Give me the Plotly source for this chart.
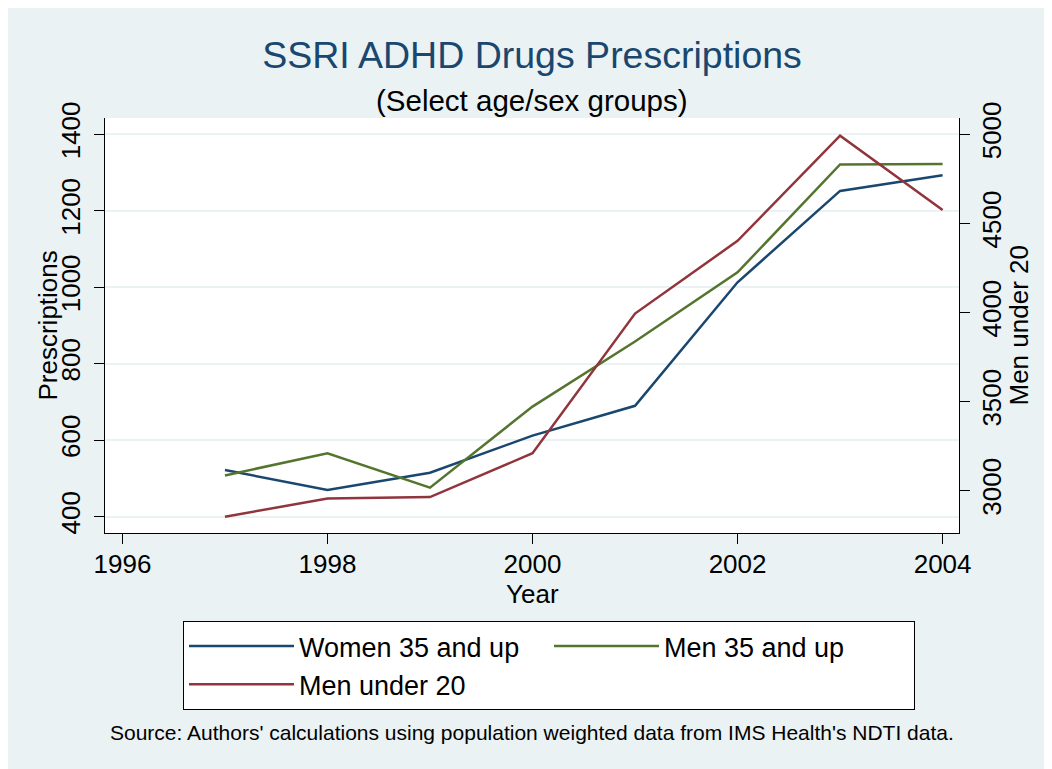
import plotly.graph_objects as go

# values
years = [1997, 1998, 1999, 2000, 2001, 2002, 2003, 2004]
women_35_up = [522, 470, 515, 612, 690, 1013, 1252, 1293]
men_35_up = [508, 566, 476, 688, 858, 1039, 1321, 1322]
men_under_20 = [2854, 2956, 2964, 3210, 3994, 4402, 4992, 4575]

left_ticks = [400, 600, 800, 1000, 1200, 1400]
right_ticks = [3000, 3500, 4000, 4500, 5000]
year_ticks = [1996, 1998, 2000, 2002, 2004]

NAVY = "#1a476f"
GREEN = "#55752f"
MAROON = "#90353b"
BG = "#eaf2f3"
FONT = "Liberation Sans, Arial, sans-serif"

# page body adds an 8px offset; plot area sits at x 105..959, y 118..533
W, H = 1044, 761
PL, PR, PT, PB = 105, 959, 118, 533


def px_x(x):
    return (x - PL) / (PR - PL)


def px_y(y):
    return (PB - y) / (PB - PT)


fig = go.Figure()
fig.add_trace(go.Scatter(
    x=years, y=women_35_up, name="Women 35 and up", mode="lines",
    line=dict(color=NAVY, width=2.5),
))
fig.add_trace(go.Scatter(
    x=years, y=men_35_up, name="Men 35 and up", mode="lines",
    line=dict(color=GREEN, width=2.5),
))
fig.add_trace(go.Scatter(
    x=years, y=men_under_20, name="Men under 20", mode="lines",
    line=dict(color=MAROON, width=2.5), yaxis="y2",
))

axis_common = dict(
    showline=True, linecolor="black", linewidth=1.2,
    ticks="outside", ticklen=10, tickcolor="black", tickwidth=1.2,
    tickfont=dict(size=26, color="black"), zeroline=False,
)

fig.update_layout(
    width=W, height=H,
    margin=dict(l=PL - 8, r=1052 - PR, t=PT - 8, b=769 - PB),
    paper_bgcolor=BG, plot_bgcolor="white",
    font=dict(family=FONT, color="black"),
    title=dict(
        text="SSRI ADHD Drugs Prescriptions",
        font=dict(size=37.5, color=NAVY),
        x=0.5, xref="paper", xanchor="center",
        y=1 - (55 - 8) / H, yref="container", yanchor="middle",
    ),
    xaxis=dict(
        range=[1995.83, 2004.16], tickvals=year_ticks, showgrid=False,
        ticklabelstandoff=-2,
        **axis_common,
    ),
    yaxis=dict(
        range=[357.4, 1442.6], tickvals=left_ticks, tickangle=-90,
        showgrid=True, gridcolor=BG, gridwidth=2, ticklabelstandoff=4,
        **axis_common,
    ),
    yaxis2=dict(
        range=[2762.5, 5091.5], tickvals=right_ticks, tickangle=-90,
        overlaying="y", side="right", showgrid=False, ticklabelstandoff=0,
        **axis_common,
    ),
    legend=dict(
        orientation="h", x=px_x(183), y=px_y(621),
        xanchor="left", yanchor="top",
        bgcolor="white", bordercolor="black", borderwidth=1,
        font=dict(size=27), entrywidth=245, itemwidth=105,
        traceorder="normal",
    ),
    annotations=[
        dict(
            text="(Select age/sex groups)", xref="paper", yref="paper",
            x=0.5, y=px_y(100), xanchor="center", yanchor="middle",
            showarrow=False, font=dict(size=29.5),
        ),
        dict(
            text="Prescriptions", xref="paper", yref="paper",
            x=px_x(47), y=0.5, textangle=-90, xanchor="center", yanchor="middle",
            showarrow=False, font=dict(size=26),
        ),
        dict(
            text="Men under 20", xref="paper", yref="paper",
            x=px_x(1018), y=0.5, textangle=-90, xanchor="center", yanchor="middle",
            showarrow=False, font=dict(size=26),
        ),
        dict(
            text="Year", xref="paper", yref="paper",
            x=0.5, y=px_y(594), xanchor="center", yanchor="middle",
            showarrow=False, font=dict(size=26),
        ),
        dict(
            text="Source: Authors' calculations using population weighted data from IMS Health's NDTI data.",
            xref="paper", yref="paper",
            x=0.5, y=px_y(732), xanchor="center", yanchor="middle",
            showarrow=False, font=dict(size=21),
        ),
    ],
)

fig.write_html("out.html")
